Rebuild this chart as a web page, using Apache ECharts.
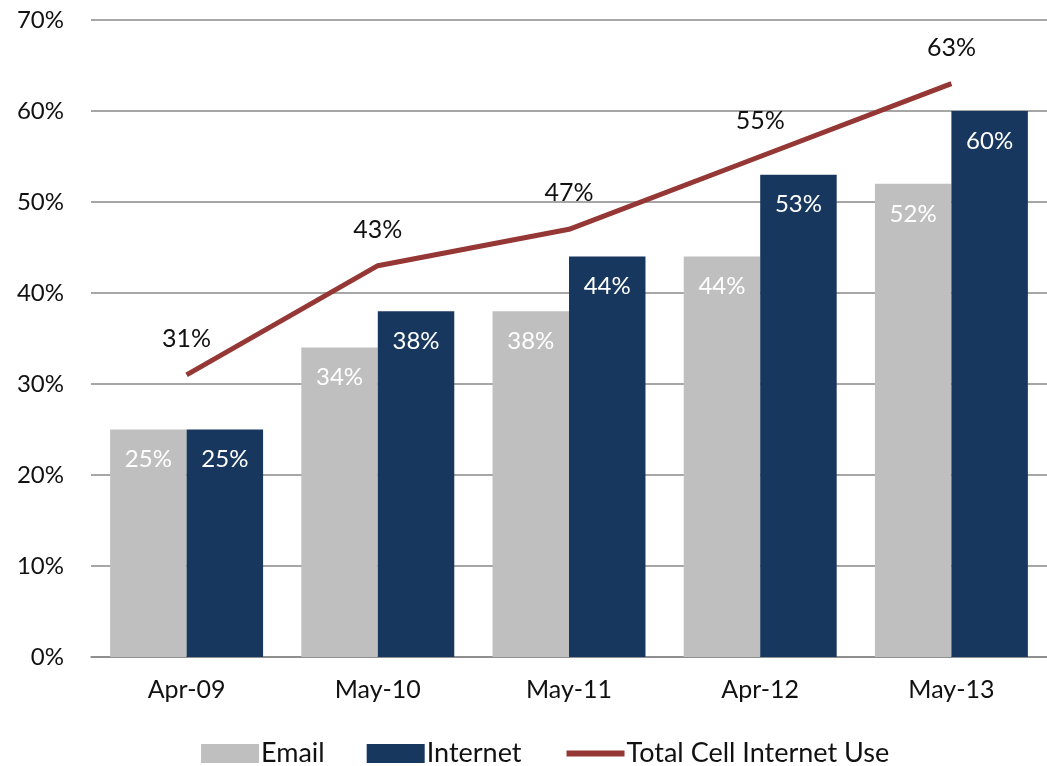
<!DOCTYPE html>
<html><head><meta charset="utf-8">
<script src="https://cdn.jsdelivr.net/npm/echarts@6/dist/echarts.min.js"></script>
<style>html,body{margin:0;padding:0;background:#fff}#c{width:1047px;height:766px}</style>
</head><body><div id="c"></div>
<script>
const categories = ['Apr-09','May-10','May-11','Apr-12','May-13'];
const emailValues = [25,34,38,44,52];
const internetValues = [25,38,44,53,60];
const totalValues = [31,43,47,55,63];
const yTicks = [0,10,20,30,40,50,60,70];

const FONT = 'Lato';
const chart = echarts.init(document.getElementById('c'));
chart.setOption({
  animation:false,
  textStyle:{fontFamily:FONT},
  grid:{left:91, top:20, width:965, height:637},
  legend:{
    top:740, left:201, itemGap:42, itemWidth:58, itemHeight:19, padding:[0,0,0,0],
    textStyle:{fontFamily:FONT, fontSize:27, color:'#111', padding:[0,0,0,-3]},
    data:[
      {name:'Email',icon:'rect'},
      {name:'Internet',icon:'rect'},
      {name:'Total Cell Internet Use',itemStyle:{opacity:0},lineStyle:{width:6,color:'#953735'}}
    ]
  },
  xAxis:{
    type:'category', data:categories,
    axisLine:{lineStyle:{color:'#888',width:1.5}},
    axisTick:{show:false},
    axisLabel:{fontFamily:FONT,fontSize:25,color:'#111',margin:20}
  },
  yAxis:{
    type:'value', min:0, max:70, interval:10,
    axisLine:{show:false}, axisTick:{show:false},
    splitLine:{lineStyle:{color:'#888',width:1.5}},
    axisLabel:{fontFamily:FONT,fontSize:24,color:'#111',margin:27,
      formatter:v=>yTicks.includes(v)?v+'%':''}
  },
  series:[
    {name:'Email',type:'bar',data:emailValues,barGap:'0%',barCategoryGap:'20%',
     itemStyle:{color:'#BFBFBF'},
     label:{show:true,position:'insideTop',distance:18,color:'#fff',fontSize:24,fontFamily:FONT,formatter:'{c}%'}},
    {name:'Internet',type:'bar',data:internetValues,
     itemStyle:{color:'#17375E'},
     label:{show:true,position:'insideTop',distance:18,color:'#fff',fontSize:24,fontFamily:FONT,formatter:'{c}%'}},
    {name:'Total Cell Internet Use',type:'line',data:totalValues,symbol:'circle',symbolSize:1,showSymbol:true,
     lineStyle:{color:'#953735',width:5},itemStyle:{color:'#953735',opacity:0},
     label:{show:true,position:'top',distance:23,color:'#111',opacity:1,fontSize:25,fontFamily:FONT,formatter:'{c}%'}}
  ]
});
</script></body></html>
